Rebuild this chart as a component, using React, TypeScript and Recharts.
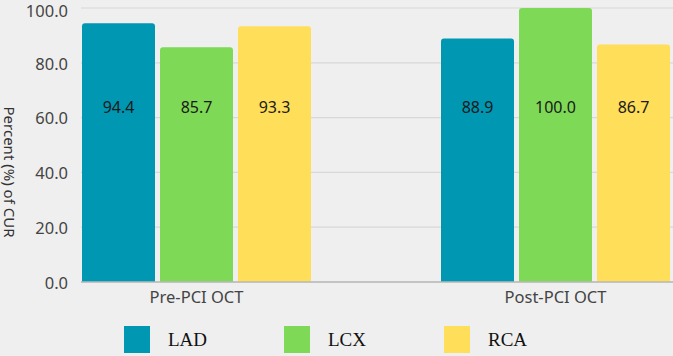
import React from 'react'
import { BarChart, Bar, XAxis, YAxis, CartesianGrid, LabelList } from 'recharts'

const categories = ['Pre-PCI OCT', 'Post-PCI OCT']
const ladValues = [94.4, 88.9]
const lcxValues = [85.7, 100.0]
const rcaValues = [93.3, 86.7]
const yTicks = [0, 20, 40, 60, 80, 100]

const SERIES = [
  { key: 'LAD', color: '#0097b2' },
  { key: 'LCX', color: '#7ed957' },
  { key: 'RCA', color: '#ffde59' },
]

const data = categories.map((name, i) => ({
  name,
  LAD: ladValues[i],
  LCX: lcxValues[i],
  RCA: rcaValues[i],
}))

const FONT = '"Noto Sans", "Open Sans", sans-serif'

// value text sits at a fixed depth above the baseline, not at the bar's middle
const renderValue = (props: any) => {
  const { x, y, width, height, value } = props
  return (
    <text x={x + width / 2} y={y + height - 175} textAnchor="middle" dominantBaseline="central"
      fontFamily={FONT} fontSize={16} fill="#1a1a1a">
      {Number(value).toFixed(1)}
    </text>
  )
}

const renderYLabel = (props: any) => {
  const vb = props.viewBox
  const cy = vb.y + vb.height / 2 + 27
  return (
    <text transform={`translate(10, ${cy}) rotate(90)`} textAnchor="middle" dominantBaseline="central"
      fontFamily={FONT} fontSize={15} fill="#333">
      Percent (%) of CUR
    </text>
  )
}

export default function App() {
  return (
    <div style={{ position: 'absolute', left: 0, top: 0, width: 673, height: 356, background: '#efefef', overflow: 'hidden' }}>
      <BarChart width={673} height={356} data={data} barSize={73} barGap={5}
        margin={{ top: 8, right: 0, bottom: 44, left: 0 }}>
        <CartesianGrid vertical={false} stroke="#d8d8d8" strokeWidth={1.2} />
        <XAxis dataKey="name" height={30} padding={{ left: -64, right: -62 }} tickLine={false} tickSize={0} tickMargin={9}
          axisLine={{ stroke: '#b8b8b8', strokeWidth: 1.5 }}
          tick={{ fontFamily: FONT, fontSize: 16.5, fill: '#444' }} />
        <YAxis width={81} domain={[0, 100]} ticks={yTicks} tickLine={false} axisLine={false}
          tickSize={6} tickMargin={7} tickFormatter={(v: number) => v.toFixed(1)}
          tick={{ fontFamily: FONT, fontSize: 16.5, fill: '#444', dy: 1 }}
          label={{ content: renderYLabel }} />
        {SERIES.map(s => (
          <Bar key={s.key} dataKey={s.key} fill={s.color} radius={[3, 3, 0, 0]} isAnimationActive={false}>
            <LabelList dataKey={s.key} content={renderValue} />
          </Bar>
        ))}
      </BarChart>
      {/* legend row under the plot */}
      <div style={{ position: 'absolute', left: 124, top: 326, display: 'flex' }}>
        {SERIES.map(s => (
          <div key={s.key} style={{ width: 160, display: 'flex', alignItems: 'center' }}>
            <span style={{ width: 26, height: 27, background: s.color, display: 'inline-block', marginRight: 18 }} />
            <span style={{ fontFamily: '"Liberation Serif", "Times New Roman", serif', fontSize: 19, color: '#111' }}>{s.key}</span>
          </div>
        ))}
      </div>
    </div>
  )
}
